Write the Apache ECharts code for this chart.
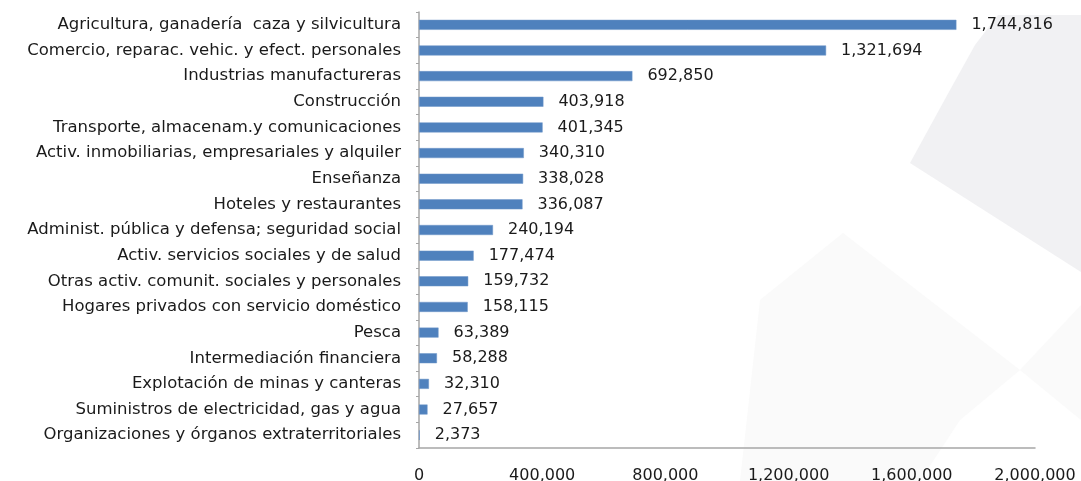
<!DOCTYPE html>
<html>
<head>
<meta charset="utf-8">
<script src="https://cdn.jsdelivr.net/npm/echarts@6/dist/echarts.min.js"></script>
<style>
  html, body { margin: 0; padding: 0; background: #fff; }
  #chart { width: 1081px; height: 481px; }
</style>
</head>
<body>
<div id="chart"></div>
<script>
// sectores, de mayor a menor
const sectores = [
  'Agricultura, ganadería  caza y silvicultura',
  'Comercio, reparac. vehic. y efect. personales',
  'Industrias manufactureras',
  'Construcción',
  'Transporte, almacenam.y comunicaciones',
  'Activ. inmobiliarias, empresariales y alquiler',
  'Enseñanza',
  'Hoteles y restaurantes',
  'Administ. pública y defensa; seguridad social',
  'Activ. servicios sociales y de salud',
  'Otras activ. comunit. sociales y personales',
  'Hogares privados con servicio doméstico',
  'Pesca',
  'Intermediación financiera',
  'Explotación de minas y canteras',
  'Suministros de electricidad, gas y agua',
  'Organizaciones y órganos extraterritoriales'
];
const ocupados = [
  1744816, 1321694, 692850, 403918, 401345, 340310, 338028, 336087,
  240194, 177474, 159732, 158115, 63389, 58288, 32310, 27657, 2373
];
const ejeMax = 2000000;
const ejePaso = 400000;

const chart = echarts.init(document.getElementById('chart'));
const fmt = v => v.toString().replace(/\B(?=(\d{3})+(?!\d))/g, ',');

chart.setOption({
  animation: false,
  backgroundColor: '#fff',
  textStyle: { fontFamily: 'DejaVu Sans, sans-serif' },
  graphic: [
    // marca de agua gris claro del fondo
    {
      type: 'polygon', z: -10, silent: true,
      shape: { points: [[998, 15], [1081, 15], [1081, 272], [910, 163], [950, 90], [975, 45]] },
      style: { fill: '#f1f1f3' }
    },
    {
      type: 'polygon', z: -10, silent: true,
      shape: { points: [[843, 233], [1020, 370], [960, 420], [920, 481], [740, 481], [760, 300]] },
      style: { fill: '#fafafa' }
    },
    {
      type: 'polygon', z: -10, silent: true,
      shape: { points: [[1081, 305], [1020, 370], [1081, 420]] },
      style: { fill: '#fafafa' }
    }
  ],
  grid: { left: 419, right: 46, top: 12, bottom: 33, outerBoundsMode: 'none', containLabel: false },
  xAxis: {
    type: 'value',
    min: 0,
    max: ejeMax,
    interval: ejePaso,
    axisLine: { show: true, lineStyle: { color: '#a6a6a6', width: 1.5 } },
    axisTick: { show: false },
    splitLine: { show: false },
    axisLabel: {
      color: '#1a1a1a', fontSize: 16, margin: 20,
      formatter: fmt
    }
  },
  yAxis: {
    type: 'category',
    inverse: true,
    data: sectores,
    axisLine: { show: true, lineStyle: { color: '#a6a6a6', width: 1.5 } },
    axisTick: { show: true, length: 3, lineStyle: { color: '#a6a6a6' } },
    axisLabel: { color: '#1a1a1a', fontSize: 16.5, margin: 18 }
  },
  series: [{
    type: 'bar',
    data: ocupados,
    barWidth: 10,
    itemStyle: { color: '#4f81bd', borderColor: '#6f97c8', borderWidth: 0.5 },
    label: {
      show: true,
      position: 'right',
      distance: 15,
      color: '#1a1a1a',
      fontSize: 16,
      formatter: p => fmt(p.value)
    }
  }]
});
</script>
</body>
</html>
